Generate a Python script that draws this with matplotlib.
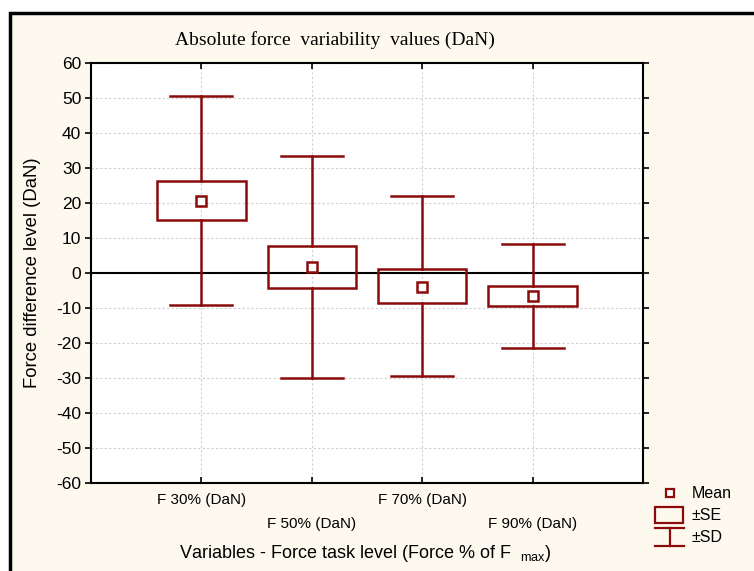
import matplotlib
matplotlib.use("Agg")
import matplotlib.pyplot as plt
from matplotlib.patches import Rectangle
from matplotlib.lines import Line2D

plt.rcParams["axes.unicode_minus"] = False

# values (DaN)
categories = ["F 30% (DaN)", "F 50% (DaN)", "F 70% (DaN)", "F 90% (DaN)"]
means = [20.6, 1.6, -3.9, -6.6]
se_high = [26.3, 7.7, 1.2, -3.7]
se_low = [15.1, -4.4, -8.6, -9.5]
sd_high = [50.6, 33.4, 22.0, 8.2]
sd_low = [-9.1, -30.0, -29.3, -21.3]
yticks = list(range(-60, 61, 10))

red = "#8b0a0a"
cream = "#fdf9ef"

fig = plt.figure(figsize=(7.54, 5.71), dpi=100)
fig.patch.set_facecolor("white")
# outer frame
fig.patches.append(Rectangle((10 / 754, -0.02), 1.05, (571 - 13) / 571 + 0.02,
                             transform=fig.transFigure, facecolor=cream,
                             edgecolor="black", lw=2.5, zorder=-10))

ax = fig.add_axes([91 / 754, 1 - 483 / 571, (643 - 91) / 754, (483 - 63) / 571])
ax.set_facecolor("white")
ax.set_xlim(0, 5)
ax.set_ylim(-60, 60)

xs = [i + 1 for i in range(len(categories))]
box_w = 0.4
cap_w = 0.28
for x, m, sh, sl, dh, dl in zip(xs, means, se_high, se_low, sd_high, sd_low):
    ax.plot([x, x], [sh, dh], color=red, lw=1.8, zorder=3)
    ax.plot([x, x], [dl, sl], color=red, lw=1.8, zorder=3)
    ax.plot([x - cap_w, x + cap_w], [dh, dh], color=red, lw=1.8, zorder=3)
    ax.plot([x - cap_w, x + cap_w], [dl, dl], color=red, lw=1.8, zorder=3)
    ax.add_patch(Rectangle((x - box_w, sl), 2 * box_w, sh - sl, facecolor="none",
                           edgecolor=red, lw=1.8, zorder=4))
    ax.plot(x, m, marker="s", ms=7, mfc="white", mec=red, mew=1.8, zorder=5)

ax.axhline(0, color="black", lw=1.5, zorder=2)

ax.set_yticks(yticks)
ax.set_xticks(xs + [5])
ax.set_xticklabels([])
ax.grid(True, color="#d0d0d0", ls=(0, (2, 2)), lw=0.8)
ax.set_axisbelow(True)
for s in ax.spines.values():
    s.set_linewidth(1.5)
ax.tick_params(axis="y", direction="out", length=4, width=1.2, labelsize=12.5,
               right=True, pad=3)
ax.tick_params(axis="x", direction="in", length=4, width=1.2, top=True)
for lab in ax.get_yticklabels():
    lab.set_fontfamily("Liberation Sans")

# staggered category labels
for i, (x, c) in enumerate(zip(xs, categories)):
    yoff = 500 if i % 2 == 0 else 524
    fig.text((91 + x * (643 - 91) / 5) / 754, 1 - yoff / 571, c,
             ha="center", va="center", fontsize=11, family="Liberation Sans")

fig.text(365 / 754, 1 - 553 / 571,
         r"Variables - Force task level (Force % of F  $_{\mathregular{max}}$)",
         ha="center", va="center", fontsize=13, family="Liberation Sans")
fig.text(33 / 754, 1 - 273 / 571, "Force difference level (DaN)", rotation=90,
         ha="center", va="center", fontsize=13.3, family="Liberation Sans")
fig.text(335 / 754, 1 - 40 / 571, "Absolute force  variability  values (DaN)",
         ha="center", va="center", fontsize=14, family="Liberation Serif")

# legend drawn by hand
def fx(px):
    return px / 754

def fy(py):
    return 1 - py / 571

fig.add_artist(Line2D([fx(670)], [fy(493)], marker="s", ms=6, mfc="white",
                      mec=red, mew=1.6, transform=fig.transFigure))
fig.patches.append(Rectangle((fx(655), fy(523)), fx(683) - fx(655), fy(507) - fy(523),
                             transform=fig.transFigure, facecolor="none",
                             edgecolor=red, lw=1.6))
fig.add_artist(Line2D([fx(655), fx(684)], [fy(528), fy(528)], color=red, lw=1.6,
                      transform=fig.transFigure))
fig.add_artist(Line2D([fx(655), fx(684)], [fy(546), fy(546)], color=red, lw=1.6,
                      transform=fig.transFigure))
fig.add_artist(Line2D([fx(670), fx(670)], [fy(528), fy(546)], color=red, lw=1.6,
                      transform=fig.transFigure))
for py, t in [(493, "Mean"), (516, "±SE"), (538, "±SD")]:
    fig.text(fx(692), fy(py), t, ha="left", va="center",
             fontsize=11.5, family="Liberation Sans")

fig.savefig("out.png", dpi=100, facecolor=fig.get_facecolor())
